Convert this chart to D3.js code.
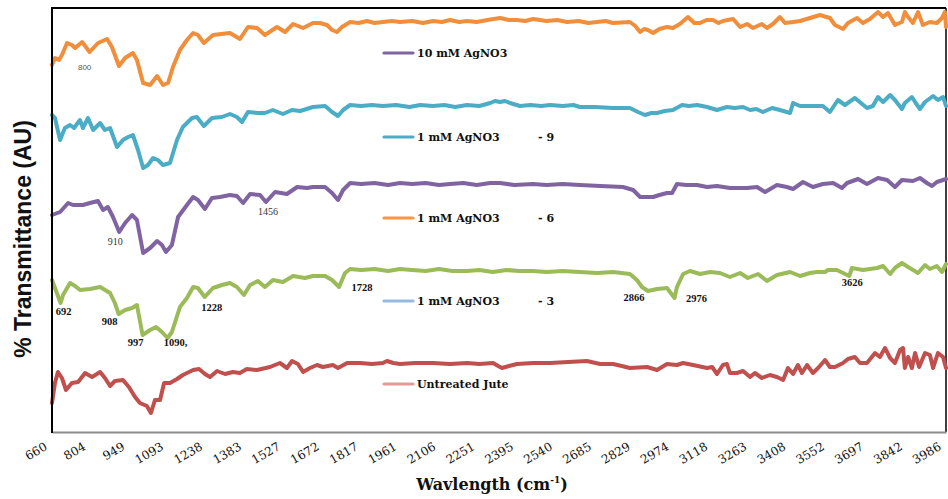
<!DOCTYPE html>
<html>
<head>
<meta charset="utf-8">
<script src="https://cdn.jsdelivr.net/npm/d3@7"></script>
<style>
  html, body { margin: 0; padding: 0; background: #fff; }
  svg { display: block; }
</style>
</head>
<body>
<svg id="chart" width="948" height="499"></svg>
<script>
// FTIR spectra of jute fibre, stacked with vertical offsets (arbitrary units)
// Each series: [wavenumber (cm-1), transmittance (AU)]

const wavenumberTicks = [660, 804, 949, 1093, 1238, 1383, 1527, 1672, 1817, 1961, 2106, 2251,
  2395, 2540, 2685, 2829, 2974, 3118, 3263, 3408, 3552, 3697, 3842, 3986];

const agno3_10mM = [
  [660,36.7],[671,37.4],[686,37.2],[697,37.7],[716,38.9],[734,38.7],[746,38.4],[772,39.0],
  [800,38.0],[831,38.9],[865,39.3],[883,38.5],[909,36.6],[932,37.4],[961,37.9],[976,37.2],
  [999,34.9],[1025,34.7],[1051,35.6],[1073,34.7],[1092,34.9],[1110,36.5],[1136,38.2],[1162,39.2],
  [1185,39.9],[1203,39.7],[1225,38.9],[1259,39.7],[1290,39.8],[1322,39.9],[1359,39.3],[1389,40.5],[1423,40.4],
  [1452,39.7],[1497,40.5],[1527,40.0],[1557,40.8],[1594,40.4],[1631,40.9],[1657,40.9],[1683,40.7],
  [1702,40.2],[1720,40.0],[1739,40.5],[1769,41.0],[1800,40.9],[1832,41.1],[1860,40.9],[1891,41.0],[1925,41.1],
  [1955,41.0],[2000,41.1],[2040,40.9],[2077,41.1],[2110,41.0],[2141,41.2],[2175,41.0],[2204,41.1],
  [2240,41.0],[2280,41.2],[2327,41.4],[2360,41.2],[2390,41.2],[2420,41.1],[2450,41.3],[2500,41.1],
  [2540,41.2],[2576,41.0],[2620,41.1],[2655,40.9],[2688,41.0],[2720,41.1],[2747,40.9],
  [2810,41.0],[2830,40.6],[2848,40.0],[2863,40.3],[2877,40.2],[2896,39.9],[2920,40.3],[2948,40.5],[2970,40.4],[2996,40.8],[3026,41.5],
  [3050,40.9],[3071,40.9],[3095,41.2],[3119,41.2],[3140,40.9],[3156,41.1],[3194,41.3],[3220,40.5],[3246,40.8],[3268,40.4],[3301,40.8],
  [3320,40.4],[3342,40.8],[3368,41.5],[3387,40.9],[3417,41.0],[3443,41.1],[3480,41.4],[3517,41.7],
  [3554,41.4],[3573,40.7],[3603,40.3],[3621,40.9],[3655,41.4],[3677,40.9],[3703,41.3],[3733,42.0],
  [3752,41.5],[3770,41.9],[3796,40.7],[3822,41.0],[3833,42.0],[3845,41.5],[3863,40.9],[3882,42.0],
  [3900,40.7],[3926,41.0],[3952,40.9],[3971,41.4],[3982,42.0],[3986,40.5]
];

const agno3_1mM_9 = [
  [660,31.7],[671,31.4],[690,29.2],[708,30.4],[727,30.7],[742,30.4],[764,31.2],[775,30.4],
  [794,31.4],[813,30.2],[839,30.9],[857,30.2],[876,30.4],[902,28.5],[924,29.2],[943,29.5],
  [961,29.7],[980,28.2],[999,26.4],[1017,26.7],[1036,27.4],[1054,27.2],[1073,26.7],[1099,26.9],
  [1125,29.2],[1147,30.5],[1181,31.4],[1199,31.5],[1225,30.6],[1255,31.4],[1292,31.5],[1322,31.8],
  [1348,31.5],[1367,31.0],[1389,32.0],[1426,31.9],[1452,31.9],[1482,32.2],[1519,31.8],[1553,32.2],
  [1583,32.1],[1631,32.5],[1676,32.6],[1702,32.0],[1724,31.6],[1743,32.2],[1769,32.7],[1810,32.6],
  [1850,32.7],[1891,32.6],[1940,32.7],[1990,32.5],[2030,32.7],[2077,32.6],[2120,32.7],[2160,32.5],
  [2204,32.7],[2250,32.6],[2290,32.9],[2308,33.1],[2327,33.0],[2345,33.1],[2364,32.9],[2401,32.6],
  [2440,32.7],[2480,32.6],[2513,32.7],[2560,32.6],[2600,32.7],[2624,32.5],[2680,32.5],[2747,32.4],
  [2810,32.4],[2840,32.0],[2866,31.7],[2890,31.9],[2911,31.9],[2940,32.1],[2970,32.2],[3004,32.7],[3030,32.6],[3060,32.7],
  [3097,32.5],[3134,32.2],[3171,32.5],[3200,32.4],[3231,32.5],[3257,32.2],[3280,32.3],[3305,32.0],[3339,32.4],[3368,32.2],
  [3406,31.9],[3417,32.9],[3443,32.6],[3491,32.6],[3528,32.6],[3554,32.0],[3584,33.2],[3610,32.7],
  [3647,33.4],[3692,32.4],[3714,32.6],[3733,33.5],[3752,33.0],[3778,33.7],[3796,33.2],[3822,32.3],
  [3833,32.9],[3859,33.5],[3871,33.0],[3889,32.3],[3908,33.0],[3938,33.6],[3956,33.2],[3975,33.5],
  [3986,32.6]
];

const agno3_1mM_6 = [
  [660,21.7],[690,22.0],[720,22.9],[738,22.7],[775,22.7],[801,22.9],[831,23.1],[850,22.2],
  [868,22.5],[887,21.5],[910,20.0],[932,20.9],[958,21.7],[976,21.2],[999,17.9],[1025,18.4],
  [1051,19.1],[1069,18.7],[1084,18.0],[1106,18.7],[1129,21.5],[1162,22.7],[1185,23.5],[1203,23.2],
  [1229,22.3],[1255,23.4],[1285,23.5],[1322,23.7],[1348,23.6],[1371,22.9],[1397,23.8],[1434,23.7],
  [1456,23.0],[1490,24.0],[1534,23.8],[1572,24.5],[1609,24.4],[1631,24.5],[1676,24.5],[1702,23.9],
  [1724,23.2],[1743,24.2],[1769,24.9],[1810,24.8],[1860,24.9],[1910,24.7],[1955,24.9],[2000,24.8],
  [2050,24.9],[2100,24.7],[2141,24.8],[2190,24.9],[2240,24.7],[2290,24.9],[2327,24.9],[2380,24.7],
  [2450,24.8],[2500,24.7],[2560,24.8],[2624,24.7],[2700,24.6],
  [2784,24.5],[2822,24.2],[2848,23.5],[2870,23.5],[2896,23.5],[2920,23.7],[2948,23.9],[2967,23.9],[2985,24.8],[3020,24.7],[3060,24.7],
  [3097,24.5],[3134,24.6],[3182,24.4],[3246,24.4],[3283,24.5],[3313,24.0],[3357,24.7],[3394,24.5],
  [3417,24.3],[3454,25.0],[3491,24.5],[3528,24.8],[3566,24.9],[3599,24.4],[3618,24.9],[3659,25.3],
  [3692,24.8],[3733,25.4],[3767,25.2],[3796,24.5],[3822,25.2],[3863,25.1],[3889,25.4],[3915,24.9],
  [3934,24.6],[3952,25.0],[3986,25.3]
];

const agno3_1mM_3 = [
  [660,15.2],[671,14.4],[692,12.9],[701,13.7],[727,14.9],[746,14.6],[764,14.2],[801,14.3],
  [839,14.5],[876,13.9],[894,12.9],[908,11.8],[932,12.2],[958,12.4],[976,12.7],[997,9.7],
  [1025,10.2],[1047,10.5],[1069,10.0],[1090,9.4],[1106,10.0],[1136,12.5],[1162,13.4],[1185,14.5],
  [1203,14.4],[1228,13.5],[1259,14.4],[1292,14.7],[1322,14.9],[1348,14.5],[1374,13.7],[1397,14.7],
  [1426,15.1],[1452,14.5],[1482,15.2],[1519,15.0],[1557,15.6],[1601,15.4],[1631,15.6],[1676,15.6],
  [1702,15.2],[1728,14.5],[1750,15.9],[1769,16.3],[1810,16.2],[1860,16.3],[1910,16.1],[1955,16.3],
  [2000,16.2],[2050,16.1],[2100,16.3],[2150,16.1],[2204,16.1],[2250,16.2],[2300,16.0],[2350,16.2],
  [2400,16.1],[2450,16.1],[2500,16.0],[2560,16.1],[2624,16.0],
  [2688,15.9],[2747,16.0],[2810,15.8],[2836,15.2],[2855,14.5],[2877,14.1],[2911,14.3],[2948,14.4],
  [2976,13.4],[2985,14.5],[3008,15.8],[3034,16.1],[3071,15.8],[3108,16.0],[3145,15.9],[3182,15.5],
  [3220,15.9],[3249,15.4],[3287,15.8],[3320,15.1],[3357,15.7],[3406,16.0],[3443,15.6],[3480,15.9],
  [3506,16.0],[3536,16.0],[3547,16.2],[3580,16.2],[3626,15.6],[3636,16.4],[3677,16.2],[3729,16.4],
  [3752,16.6],[3778,15.8],[3796,16.4],[3822,16.9],[3845,16.5],[3882,15.9],[3908,16.7],[3926,16.3],
  [3952,16.6],[3971,16.0],[3986,16.8]
];

const untreatedJute = [
  [660,2.9],[671,4.9],[682,6.0],[697,5.4],[712,4.2],[734,4.9],[757,5.0],[783,5.9],
  [809,5.5],[839,6.0],[857,5.4],[876,4.6],[894,5.1],[924,5.2],[946,4.5],[969,3.5],
  [987,2.9],[1013,2.6],[1028,1.9],[1043,3.2],[1062,3.2],[1077,4.9],[1099,4.9],[1125,5.3],
  [1147,5.7],[1185,6.2],[1207,6.3],[1229,5.8],[1248,5.5],[1274,6.1],[1304,5.8],[1333,6.0],
  [1359,5.9],[1385,6.3],[1423,6.2],[1471,6.5],[1508,6.9],[1534,6.4],[1553,7.1],[1575,6.8],
  [1594,6.0],[1620,6.4],[1646,6.7],[1668,6.5],[1705,6.7],[1724,6.4],[1758,6.9],[1806,6.9],
  [1850,6.8],[1891,6.9],[1906,7.1],[1930,6.9],[1955,6.8],[2010,6.9],[2077,6.9],[2140,6.8],[2204,6.9],
  [2250,6.8],[2301,6.9],[2320,6.6],[2334,6.4],[2360,6.6],[2390,6.8],[2450,6.9],
  [2513,6.9],[2580,7.0],[2650,7.1],[2699,6.8],[2747,6.8],[2780,6.6],[2810,6.4],[2874,6.5],[2911,6.2],[2948,6.8],
  [2985,6.7],[3008,6.9],[3045,6.7],[3097,6.4],[3116,6.5],[3134,5.8],[3156,6.7],[3171,6.8],
  [3182,5.9],[3208,5.9],[3231,6.1],[3257,5.5],[3275,5.9],[3301,5.4],[3331,5.7],[3357,5.5],
  [3380,5.2],[3398,6.4],[3417,5.8],[3435,6.7],[3450,5.9],[3469,6.7],[3491,5.9],[3510,6.4],
  [3536,7.2],[3554,6.5],[3573,6.5],[3603,6.9],[3621,7.3],[3647,7.5],[3666,6.9],[3692,6.9],
  [3722,7.9],[3740,7.5],[3759,8.4],[3778,7.4],[3796,6.9],[3815,8.2],[3826,8.4],[3833,6.4],
  [3845,7.5],[3859,6.4],[3871,7.9],[3886,6.5],[3908,7.9],[3926,7.7],[3938,6.4],[3956,7.9],
  [3975,7.5],[3986,6.4]
];

const seriesList = [agno3_10mM, agno3_1mM_9, agno3_1mM_6, agno3_1mM_3, untreatedJute];
const seriesColors = ["#f08e3c", "#4aacc5", "#8064a2", "#9bbb59", "#c0504d"];

// Legend entries as drawn beside the curves
const legendNames = ["10 mM AgNO3", "1 mM AgNO3", "1 mM AgNO3", "1 mM AgNO3", "Untreated Jute"];
const legendSuffixes = ["", "- 9", "- 6", "- 3", ""];
const legendColors = ["#8064a2", "#4bacc6", "#f79646", "#95b9e0", "#e59a98"];

// Band assignments: label text, series index, wavenumber
const bandLabels = [
  ["800", 0, 800], ["910", 2, 910], ["1456", 2, 1456],
  ["692", 3, 692], ["908", 3, 908], ["997", 3, 997], ["1090,", 3, 1090], ["1228", 3, 1228],
  ["1728", 3, 1728], ["2866", 3, 2866], ["2976", 3, 2976], ["3626", 3, 3626]
];

// ---- layout ----
const svg = d3.select("#chart");
const plot = { left: 52, right: 946, top: 8, bottom: 432 };

const x = d3.scaleLinear().domain([660, 3986]).range([plot.left, plot.right]);
const y = d3.scaleLinear().domain([0, 42.4]).range([plot.bottom, plot.top]);

// Label nudges (px) relative to the curve point, in bandLabels order
const labelNudge = [
  [-5, 18], [-4, 13], [2, 13],
  [3, 12], [-9, 11], [-7, 11], [8, 8], [7, 14],
  [23, 4], [-11, 12], [22, 4], [3, 10]
];
const labelStyle = [
  { font: "Liberation Sans", weight: "normal", size: 8, fill: "#595959" },
  { font: "Liberation Serif", weight: "normal", size: 10, fill: "#333" },
  { font: "Liberation Serif", weight: "normal", size: 10, fill: "#333" }
];

// frame
svg.append("line").attr("x1", plot.left).attr("x2", plot.right)
  .attr("y1", plot.top).attr("y2", plot.top).attr("stroke", "#000").attr("stroke-width", 2);
svg.append("line").attr("x1", plot.right).attr("x2", plot.right)
  .attr("y1", plot.top).attr("y2", plot.bottom).attr("stroke", "#000").attr("stroke-width", 1.5);

// x axis: gray baseline with no tick marks, slanted serif labels
const xAxis = d3.axisBottom(x).tickValues(wavenumberTicks).tickFormat("")
  .tickSize(0).tickSizeOuter(0);
const gx = svg.append("g").attr("transform", `translate(0,${plot.bottom})`).call(xAxis);
gx.select(".domain").attr("stroke", "#8c8c8c").attr("stroke-width", 2);

svg.append("g").attr("class", "x-labels")
  .selectAll("text")
  .data(wavenumberTicks)
  .join("text")
  .attr("transform", d => `translate(${x(d) - 4},${plot.bottom + 17}) rotate(-30)`)
  .attr("text-anchor", "end")
  .attr("font-family", "DejaVu Serif")
  .attr("font-size", 12)
  .attr("fill", "#111")
  .text(d => String(d));

// spectra
const line = d3.line().x(d => x(d[0])).y(d => y(d[1]));
seriesList.forEach((s, i) => {
  svg.append("path").datum(s)
    .attr("d", line)
    .attr("fill", "none")
    .attr("stroke", seriesColors[i])
    .attr("stroke-width", 4)
    .attr("stroke-linejoin", "round")
    .attr("stroke-linecap", "round");
});

// y axis line
svg.append("line").attr("x1", plot.left).attr("x2", plot.left)
  .attr("y1", plot.top - 1).attr("y2", plot.bottom + 1).attr("stroke", "#000").attr("stroke-width", 2);

// band labels
function valueAt(series, wn) {
  const i = d3.bisector(d => d[0]).left(series, wn);
  if (i <= 0) return series[0][1];
  if (i >= series.length) return series[series.length - 1][1];
  const a = series[i - 1], b = series[i];
  return a[1] + (b[1] - a[1]) * (wn - a[0]) / (b[0] - a[0]);
}
bandLabels.forEach((b, i) => {
  const st = labelStyle[i] || { font: "Liberation Serif", weight: "bold", size: 10.5, fill: "#111" };
  svg.append("text")
    .attr("x", x(b[2]) + labelNudge[i][0])
    .attr("y", y(valueAt(seriesList[b[1]], b[2])) + labelNudge[i][1])
    .attr("text-anchor", "middle")
    .attr("font-family", st.font)
    .attr("font-weight", st.weight)
    .attr("font-size", st.size)
    .attr("fill", st.fill)
    .text(b[0]);
});

// legend
const legendRows = [53, 137, 218, 301, 384];
legendNames.forEach((name, i) => {
  const ly = legendRows[i];
  svg.append("line").attr("x1", 384).attr("x2", 413).attr("y1", ly).attr("y2", ly)
    .attr("stroke", legendColors[i]).attr("stroke-width", 3.2).attr("stroke-linecap", "round");
  svg.append("text").attr("x", 417).attr("y", ly + 4)
    .attr("font-family", "DejaVu Serif").attr("font-weight", "bold").attr("font-size", 11)
    .attr("fill", "#111").text(name);
  if (legendSuffixes[i]) {
    svg.append("text").attr("x", 538).attr("y", ly + 4)
      .attr("font-family", "DejaVu Serif").attr("font-weight", "bold").attr("font-size", 11)
      .attr("fill", "#111").text(legendSuffixes[i]);
  }
});

// axis titles
const xt = svg.append("text").attr("x", 492).attr("y", 490).attr("text-anchor", "middle")
  .attr("font-family", "DejaVu Serif").attr("font-weight", "bold").attr("font-size", 16)
  .attr("fill", "#111");
xt.append("tspan").text("Wavlength (cm");
xt.append("tspan").attr("font-size", 9).attr("dy", -7).text("-1");
xt.append("tspan").attr("dy", 7).text(")");

svg.append("text")
  .attr("transform", "translate(31,239) rotate(-90)")
  .attr("text-anchor", "middle")
  .attr("font-family", "Liberation Sans").attr("font-weight", "bold").attr("font-size", 23)
  .attr("fill", "#111")
  .text("% Transmittance (AU)");
</script>
</body>
</html>
